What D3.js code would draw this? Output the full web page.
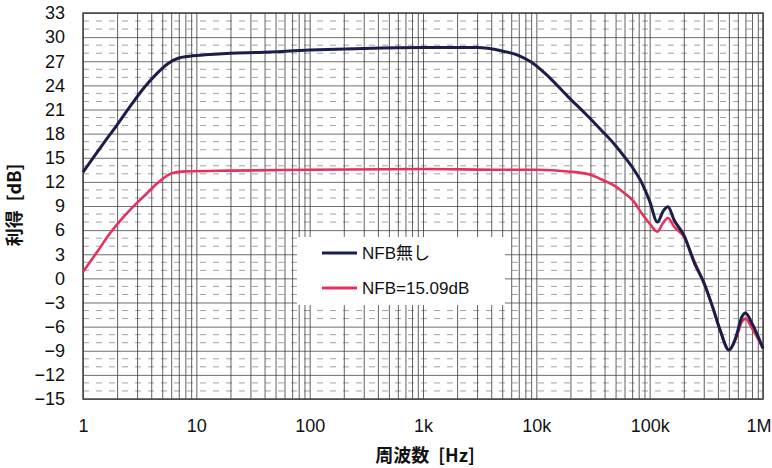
<!DOCTYPE html>
<html lang="ja">
<head>
  <meta charset="UTF-8">
  <title>利得 周波数特性</title>
  <script src="https://d3js.org/d3.v7.min.js"></script>
  <style>
    body { margin: 0; background: #fff; }
    text { font-family: "Liberation Sans", Arial, sans-serif; fill: #111; }
    .jp { font-family: "Noto Sans CJK JP", sans-serif; font-weight: 700; }
  </style>
</head>
<body>
  <svg width="772" height="468"></svg>
  <script>
    // frequency [Hz] and gain [dB]
    const freqNoNfb = [1, 1.5, 2, 2.7, 3.5, 4.5, 5.6, 7, 8.3, 12, 20, 36, 100, 300, 1000, 3000, 4900, 7000, 9000, 13000, 19000, 27000, 37600, 48000, 60000, 72000, 85000, 100000, 117000, 132000, 145000, 165000, 200000, 250000, 300000, 360000, 420000, 500000, 580000, 650000, 700000, 800000, 1000000];
    const gainNoNfb = [13.2, 16.7, 19.1, 21.7, 23.8, 25.5, 26.7, 27.4, 27.6, 27.8, 28.0, 28.1, 28.4, 28.6, 28.7, 28.7, 28.3, 27.7, 26.9, 25.0, 22.6, 20.5, 18.4, 16.8, 15.1, 13.6, 11.9, 9.6, 7.0, 8.4, 8.9, 7.2, 5.4, 1.8, -0.5, -3.6, -6.5, -8.9, -7.2, -4.8, -4.3, -5.6, -8.7];

    const freqNfb = [1, 1.35, 1.73, 2.2, 2.76, 3.5, 4.5, 6.2, 8, 20, 100, 1000, 5000, 10000, 19000, 30000, 37600, 48000, 60000, 72000, 85000, 100000, 117000, 130000, 145000, 165000, 200000, 250000, 300000, 360000, 420000, 500000, 580000, 650000, 700000, 800000, 1000000];
    const gainNfb = [0.8, 3.4, 5.6, 7.4, 8.9, 10.3, 11.8, 13.1, 13.3, 13.4, 13.5, 13.6, 13.5, 13.5, 13.3, 12.9, 12.3, 11.6, 10.6, 9.6, 8.1, 6.8, 5.8, 6.8, 7.5, 6.4, 5.2, 2.0, -0.5, -3.6, -6.5, -8.9, -7.4, -5.4, -5.0, -6.2, -8.7];

    const xTickValues = [1, 10, 100, 1000, 10000, 100000, 1000000];
    const xTickLabels = ["1", "10", "100", "1k", "10k", "100k", "1M"];
    const yTickValues = d3.range(-15, 34, 3);
    const seriesNames = ["NFB無し", "NFB=15.09dB"];
    const seriesColors = ["#1c1d48", "#e6305e"];

    const margin = { top: 13, right: 9, bottom: 69, left: 83 };
    const width = 772 - margin.left - margin.right;
    const height = 468 - margin.top - margin.bottom;

    const svg = d3.select("svg")
      .append("g")
      .attr("transform", "translate(" + margin.left + "," + margin.top + ")");

    const x = d3.scaleLog().domain([1, 1e6]).range([0, width]);
    const y = d3.scaleLinear().domain([-15, 33]).range([height, 0]);

    // grid: minor horizontal (1 dB, dashed)
    svg.append("g")
      .selectAll("line")
      .data(d3.range(-15, 34, 1).filter(v => (v + 15) % 3 !== 0))
      .enter().append("line")
      .attr("x1", 0).attr("x2", width)
      .attr("y1", d => y(d)).attr("y2", d => y(d))
      .attr("stroke", "#8a8a8a")
      .attr("stroke-width", 0.8)
      .attr("stroke-dasharray", "6,7");

    // grid: major horizontal (3 dB)
    svg.append("g")
      .call(d3.axisLeft(y).tickValues(yTickValues).tickSize(-width).tickFormat(""))
      .call(g => g.select(".domain").remove())
      .call(g => g.selectAll("line").attr("stroke", "#4a4a4a").attr("stroke-width", 0.8));

    // grid: vertical lines at 1..9 x each decade
    const xGrid = [];
    for (let e = 0; e < 6; e++) {
      for (let m = 1; m <= 9; m++) xGrid.push(m * Math.pow(10, e));
    }
    xGrid.push(1e6);
    svg.append("g")
      .call(d3.axisBottom(x).tickValues(xGrid).tickSize(height).tickFormat(""))
      .call(g => g.select(".domain").remove())
      .call(g => g.selectAll("line").attr("stroke", "#3a3a3a").attr("stroke-width", 0.8));

    // plot border
    svg.append("rect")
      .attr("width", width).attr("height", height)
      .attr("fill", "none").attr("stroke", "#444").attr("stroke-width", 1.5);

    // axes labels
    const xAxis = svg.append("g")
      .attr("transform", "translate(0," + height + ")")
      .call(d3.axisBottom(x).tickValues(xTickValues).tickSize(0).tickPadding(20)
        .tickFormat((d, i) => xTickLabels[i]));
    xAxis.select(".domain").remove();
    xAxis.selectAll("text").attr("font-size", 18).attr("fill", "#111");
    // last label sits at the right edge, keep it inside the page
    xAxis.selectAll("text").filter(d => d === 1e6)
      .attr("text-anchor", "end").attr("dx", 8);

    const yAxis = svg.append("g")
      .call(d3.axisLeft(y).tickValues(yTickValues).tickSize(0).tickPadding(18));
    yAxis.select(".domain").remove();
    yAxis.selectAll("text").attr("font-size", 18).attr("fill", "#111")
      .text(d => d < 0 ? "\u2212" + Math.abs(d) : d);

    svg.append("text")
      .attr("class", "jp")
      .attr("x", width / 2 + 2)
      .attr("y", height + 63)
      .attr("text-anchor", "middle")
      .attr("font-size", 18)
      .text("周波数\u2002[Hz]");

    svg.append("text")
      .attr("class", "jp")
      .attr("transform", "translate(-62," + (y(10) + 7) + ") rotate(-90)")
      .attr("text-anchor", "middle")
      .attr("font-size", 18)
      .text("利得\u2002[dB]");

    // curves
    const line = d3.line()
      .x(d => x(d[0]))
      .y(d => y(d[1]))
      .curve(d3.curveMonotoneX);

    const series = [
      d3.zip(freqNoNfb, gainNoNfb),
      d3.zip(freqNfb, gainNfb)
    ];

    svg.append("path")
      .datum(series[1])
      .attr("fill", "none")
      .attr("stroke", seriesColors[1])
      .attr("stroke-width", 2.6)
      .attr("d", line);

    svg.append("path")
      .datum(series[0])
      .attr("fill", "none")
      .attr("stroke", seriesColors[0])
      .attr("stroke-width", 3)
      .attr("d", line);

    // legend
    const legend = svg.append("g").attr("transform", "translate(214,224)");
    legend.append("rect")
      .attr("width", 208).attr("height", 68)
      .attr("fill", "#fff");
    seriesNames.forEach((name, i) => {
      const ly = 16 + i * 35;
      legend.append("line")
        .attr("x1", 25).attr("x2", 60)
        .attr("y1", ly).attr("y2", ly)
        .attr("stroke", seriesColors[i]).attr("stroke-width", 3);
      legend.append("text")
        .attr("x", 65).attr("y", ly + 6)
        .attr("font-size", 17)
        .style("font-family", "'Liberation Sans', 'Noto Sans CJK JP', sans-serif")
        .text(name);
    });
  </script>
</body>
</html>
